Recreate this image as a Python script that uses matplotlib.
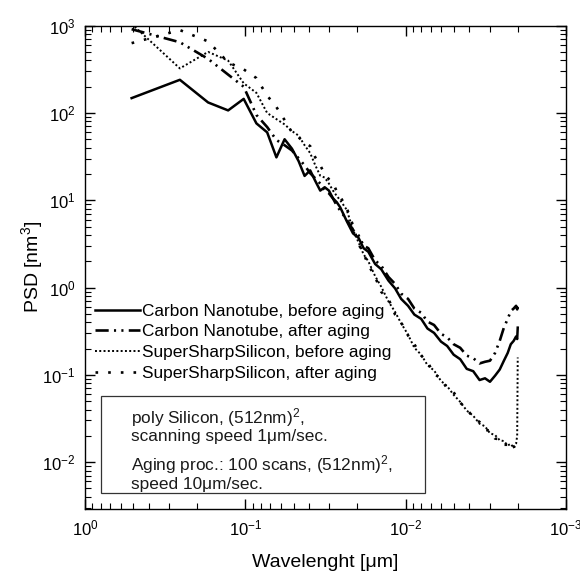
import matplotlib
matplotlib.use("Agg")
import matplotlib.pyplot as plt
from matplotlib.patches import Rectangle

# wavelength of each PSD bin [um]
wavelength = [0.512, 0.256, 0.1707, 0.128, 0.1024, 0.0853, 0.0731, 0.064, 0.0569, 0.0512,
              0.0465, 0.0427, 0.0394, 0.0366, 0.0341, 0.032, 0.0301, 0.0284, 0.0269, 0.0256,
              0.0233, 0.0213, 0.0197, 0.0183, 0.0171, 0.0155, 0.0142, 0.0128, 0.01164, 0.01067,
              0.00966, 0.00883, 0.0080, 0.00731, 0.00665, 0.00602, 0.00551, 0.00502, 0.00457,
              0.00416, 0.00379, 0.00346, 0.0032, 0.00298, 0.00277, 0.00259, 0.00244, 0.00231,
              0.00221, 0.00212, 0.002048, 0.002016, 0.002]

# PSD [nm^3]
cnt_before = [148, 240, 132, 107, 145, 76, 60, 31, 50, 39,
              28, 19, 22, 16.6, 12.9, 14.1, 12.9, 10.5, 9.5, 8.3,
              5.75, 4.17, 3.72, 2.82, 2.57, 1.86, 1.62, 1.20, 0.977, 0.741,
              0.617, 0.490, 0.437, 0.339, 0.302, 0.240, 0.214, 0.170, 0.151,
              0.117, 0.110, 0.0871, 0.0912, 0.0832, 0.0977, 0.115, 0.145, 0.178,
              0.224, 0.245, 0.275, 0.257, 0.347]
cnt_after = [912, 646, 417, 275, 200, 95, 69, 49, 42.7, 37.2,
             30.2, 25.1, 20.4, 17.8, 15.5, 12.9, 12.0, 10.5, 8.7, 7.6,
             6.0, 4.57, 3.98, 3.02, 2.82, 2.04, 1.78, 1.32, 1.10, 0.851,
             0.741, 0.575, 0.513, 0.407, 0.372, 0.295, 0.269, 0.224, 0.204,
             0.166, 0.155, 0.135, 0.141, 0.145, 0.178, 0.245, 0.347, 0.437,
             0.537, 0.575, 0.617, 0.562, 0.603]
sss_before = [1050, 324, 501, 398, 219, 170, 100, 85, 74, 62,
              55, 42.7, 34.7, 25.1, 19.1, 18.2, 15.5, 12.9, 11.2, 10.0,
              7.76, 4.57, 3.31, 2.40, 2.00, 1.35, 1.02, 0.692, 0.525, 0.389,
              0.288, 0.204, 0.170, 0.129, 0.112, 0.0851, 0.0741, 0.0589, 0.0490,
              0.0389, 0.0339, 0.0275, 0.0257, 0.0214, 0.0204, 0.0178, 0.0174, 0.0155,
              0.0162, 0.0145, 0.0162, 0.0200, 0.158]
sss_after = [631, 891, 661, 380, 316, 251, 158, 117, 83, 60,
             52.5, 45.7, 41.7, 30.9, 25.1, 20.0, 17.4, 15.8, 12.6, 11.0,
             8.13, 5.13, 3.16, 2.45, 1.82, 1.32, 0.891, 0.741, 0.490, 0.398,
             0.282, 0.224, 0.166, 0.141, 0.102, 0.0912, 0.0692, 0.0631, 0.0479,
             0.0407, 0.0324, 0.0288, 0.0234, 0.0229, 0.0186, 0.0182, 0.0158, 0.0158,
             0.0138, 0.0151, 0.0135, 0.0151, 0.0145]

labels = ["Carbon Nanotube, before aging", "Carbon Nanotube, after aging",
          "SuperSharpSilicon, before aging", "SuperSharpSilicon, after aging"]
note_lines = [r"poly Silicon, (512nm)$^2$,", "scanning speed 1\u03bcm/sec.",
              r"Aging proc.: 100 scans, (512nm)$^2$,", "speed 10\u03bcm/sec."]

plt.rcParams.update({
    "font.family": "Liberation Sans",
    "mathtext.fontset": "custom",
    "mathtext.rm": "Liberation Sans",
    "mathtext.it": "Liberation Sans:italic",
    "mathtext.bf": "Liberation Sans:bold",
    "mathtext.default": "regular",
    "font.size": 12.4,
    "axes.linewidth": 1.0,
})

fig = plt.figure(figsize=(5.8, 5.74), dpi=100)
ax = fig.add_axes([85 / 580, 1 - 509 / 574, 481 / 580, 483.3 / 574])

series = [
    (cnt_before, dict(ls="-", lw=1.8)),
    (cnt_after, dict(ls=(0, (5, 2, 0.8, 2, 0.8, 2)), lw=1.9)),
    (sss_before, dict(ls=(0, (1, 1.2)), lw=1.4)),
    (sss_after, dict(ls=(0, (1, 3.8)), lw=1.9)),
]
for (vals, style), lab in zip(series, labels):
    ax.plot(wavelength, vals, color="black", label=lab, **style)

ax.set_xscale("log")
ax.set_yscale("log")
ax.set_xlim(1, 1e-3)
ax.set_ylim(2.9e-3, 1e3)
ax.set_xlabel("Wavelenght [\u03bcm]", fontsize=14, labelpad=11)
ax.set_ylabel("PSD [nm$^3$]", fontsize=14)
ax.yaxis.set_label_coords(-0.083, 0.5)
ax.tick_params(which="both", direction="in", top=True, right=True, labelsize=12)
ax.tick_params(which="major", length=7, width=1.0, pad=7)
ax.tick_params(which="minor", length=4, width=0.8)

ax.legend(loc="upper left", bbox_to_anchor=(0.021, 0.425), frameon=False,
          borderpad=0, borderaxespad=0, handlelength=2.6, handletextpad=0.1,
          labelspacing=0.33, fontsize=12.4)

ax.add_patch(Rectangle((0.0326, 0.0331), 0.6743, 0.2007, transform=ax.transAxes,
                       fill=False, edgecolor="0.2", lw=0.9))
for txt, yy in zip(note_lines, [0.194, 0.153, 0.097, 0.054]):
    ax.text(0.095, yy, txt, transform=ax.transAxes, va="center_baseline",
            ha="left", fontsize=12.4, color="0.1")

fig.savefig("out.png", dpi=100)
